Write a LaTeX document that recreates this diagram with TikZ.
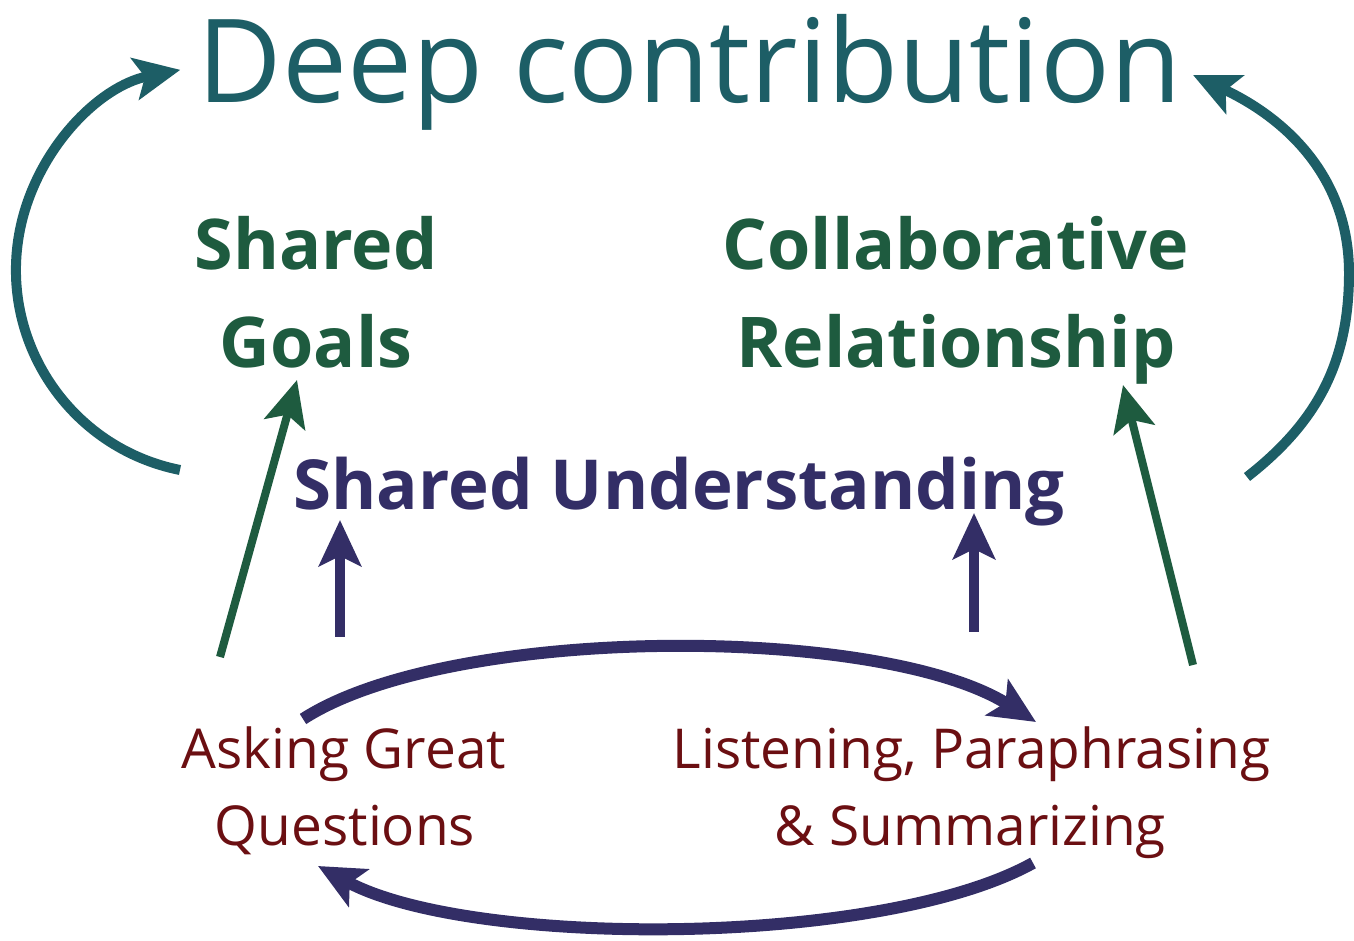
\documentclass[tikz,border=0pt]{standalone}
\usepackage{fontspec}
\setmainfont{Open Sans}
\usetikzlibrary{arrows.meta}

\definecolor{deepteal}{HTML}{1D5E66}
\definecolor{goalgreen}{HTML}{1E5B3F}
\definecolor{sharedpurple}{HTML}{332E66}
\definecolor{skillred}{HTML}{6B0F12}

\tikzset{
  bigtip/.style={-{Stealth[length=46pt,width=42pt,inset=10pt]}},
  tealarrow/.style={bigtip, color=deepteal, line width=10pt},
  greenarrow/.style={bigtip, color=goalgreen, line width=8pt},
  purplearrow/.style={bigtip, color=sharedpurple, line width=10pt},
  cyclearrow/.style={purplearrow, line width=12pt},
  titletext/.style={anchor=base, inner sep=0pt, text=deepteal, font=\fontsize{116}{130}\selectfont},
  goaltext/.style={anchor=base, inner sep=0pt, text=goalgreen, font=\fontsize{70}{84}\selectfont\bfseries},
  undertext/.style={anchor=base, inner sep=0pt, text=sharedpurple, font=\fontsize{69}{80}\selectfont\bfseries},
  skilltext/.style={anchor=base, inner sep=0pt, text=skillred, font=\fontsize{55}{66}\selectfont},
}

\begin{document}
\begin{tikzpicture}[x=1pt, y=1pt]
  \useasboundingbox (0,0) rectangle (1354,940);

  % texts
  \node[titletext] (title) at (689.5,837) {Deep contribution};
  \node[goaltext] (shared) at (316,670) {Shared};
  \node[goaltext] (goals) at (316,572) {Goals};
  \node[goaltext] (collab) at (956,670) {Collaborative};
  \node[goaltext] (relation) at (956,572) {Relationship};
  \node[undertext] (understanding) at (679,430) {Shared Understanding};
  \node[skilltext] (asking) at (344,172) {Asking Great};
  \node[skilltext] (questions) at (345,95) {Questions};
  \node[skilltext] (listening) at (971.5,172) {Listening, Paraphrasing};
  \node[skilltext] (summarizing) at (970.5,95) {\& Summarizing};

  % connector ends
  \coordinate (tealL) at (180,470);
  \coordinate (tealR) at (1247,463);
  \coordinate (tealRmid) at (1349,667);
  \coordinate (tealRtip) at (1193,865);
  \coordinate (goalFoot) at (220,283);
  \coordinate (goalTip) at (297,560);
  \coordinate (relFoot) at (1193,275);
  \coordinate (relTip) at (1123,555);
  \coordinate (undL) at (340,303);
  \coordinate (undLtip) at (340,420);
  \coordinate (undR) at (974,308);
  \coordinate (undRtip) at (974,427);
  \coordinate (askOut) at (303,221);
  \coordinate (listenIn) at (1036,218);
  \coordinate (listenOut) at (1033,77);
  \coordinate (askIn) at (318,74);

  % loops up to the title
  \draw[tealarrow] (tealL) arc[start angle=258.7, end angle=101.2, radius=204];
  \draw[tealarrow] (tealR) to[out=38,in=-90] (tealRmid) to[out=90,in=-25] (tealRtip);

  % skills feeding goals and relationship
  \draw[greenarrow] (goalFoot) -- (goalTip);
  \draw[greenarrow] (relFoot) -- (relTip);

  % skills feeding shared understanding
  \draw[purplearrow] (undL) -- (undLtip);
  \draw[purplearrow] (undR) -- (undRtip);

  % cycle between the two skills
  \draw[cyclearrow] (askOut) .. controls (450,316) and (880,316) .. (listenIn);
  \draw[cyclearrow] (listenOut) .. controls (880,-8) and (470,-8) .. (askIn);
\end{tikzpicture}
\end{document}
